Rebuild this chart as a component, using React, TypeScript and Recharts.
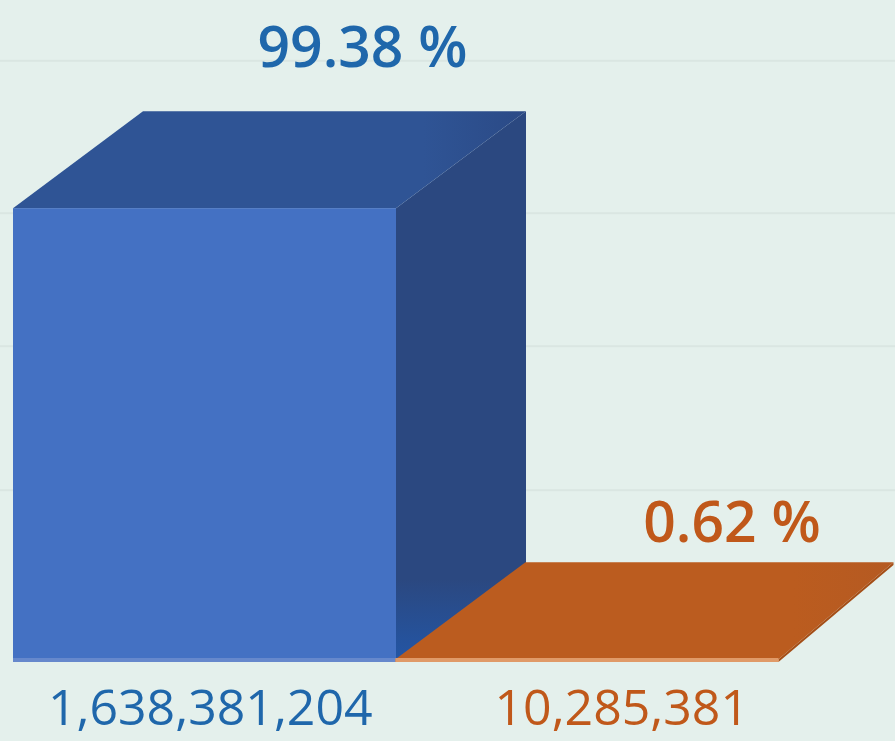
import React from "react";
import { BarChart, Bar, XAxis, YAxis, CartesianGrid, LabelList } from "recharts";

const categories = ["Blue", "Orange"];
const counts = [1638381204, 10285381];
const percents = [99.38, 0.62];
const gridTicks = [270000000, 790000000, 1270000000, 1820000000];

const data = categories.map((c, i) => ({
  name: c,
  count: counts[i],
  pct: percents[i],
  label: counts[i].toLocaleString("en-US"),
}));

const FONT = "'Open Sans', 'DejaVu Sans', sans-serif";
const BG = "#e4f0ec";
const DEPTH_Y = 97;
const MARGIN = { top: 108, right: 117, bottom: 49, left: 13 };
const depthX = [
  [130, 130],
  [130, 115],
];
const faceColors = [
  { front: "#4471c3", top: "#2f5495", topEnd: "#2b4a86", side: "#2b4880", textColor: "#1f67ab" },
  { front: "#d27a3e", top: "#bb5c1f", topEnd: "#b55a22", side: "#a44e17", textColor: "#c0581a" },
];
const labelShift = [
  [158, -141],
  [145, -117],
];
const tickShift = [6, 35];

const Box3D = (props: any) => {
  const { x, y, width, height, index } = props;
  const c = faceColors[index];
  const [dxL, dxR] = depthX[index];
  const dy = DEPTH_Y;
  const top = `${x},${y} ${x + dxL},${y - dy} ${x + width + dxR},${y - dy} ${x + width},${y}`;
  const side = `${x + width},${y} ${x + width + dxR},${y - dy} ${x + width + dxR},${y + height - dy} ${x + width},${y + height}`;
  return (
    <g>
      <defs>
        <linearGradient id={`top${index}`} x1="0" y1="0" x2="1" y2="0">
          <stop offset="0" stopColor={c.top} />
          <stop offset="0.8" stopColor={c.top} />
          <stop offset="1" stopColor={c.topEnd} />
        </linearGradient>
        <linearGradient id={`side${index}`} x1="0" y1="0" x2="0" y2="1">
          <stop offset="0" stopColor={c.side} />
          <stop offset="0.85" stopColor={c.side} />
          <stop offset="1" stopColor={index === 0 ? "#2356a6" : c.side} />
        </linearGradient>
      </defs>
      <polygon points={side} fill={`url(#side${index})`} />
      <polygon points={top} fill={`url(#top${index})`} />
      <rect x={x} y={y} width={width} height={Math.max(height, 0)} fill={c.front} />
      <rect x={x} y={y + height - 4} width={width} height={4} fill={index === 0 ? "#6688cc" : "#e09a68"} />
    </g>
  );
};

const PctLabel = (props: any) => {
  const { x, y, width, value, index } = props;
  const c = faceColors[index];
  const [sx, sy] = labelShift[index];
  return (
    <text
      x={x + width / 2 + sx}
      y={y + sy}
      textAnchor="middle"
      fontFamily={FONT}
      fontWeight={600}
      fontSize={57}
      fill={c.textColor}
    >
      {`${Number(value).toFixed(2)} %`}
    </text>
  );
};

const CountTick = (props: any) => {
  const { x, y, index, payload } = props;
  const c = faceColors[index];
  return (
    <text
      x={x + tickShift[index]}
      y={y + 55}
      textAnchor="middle"
      fontFamily={FONT}
      fontWeight={500}
      fontSize={50}
      fill={c.textColor}
    >
      {data[index] ? data[index].label : payload.value}
    </text>
  );
};

const plotTop = MARGIN.top;
const plotBottom = 741 - MARGIN.bottom - 30;

export default function App() {
  return (
    <div style={{ position: "absolute", left: 0, top: 0, width: 895, height: 741, background: BG, overflow: "hidden" }}>
      <BarChart width={895} height={741} data={data} margin={MARGIN} barCategoryGap={0}>
        <CartesianGrid
          vertical={false}
          horizontal={(p: any) => {
            if (Math.abs(p.y1 - plotTop) < 1 || Math.abs(p.y1 - plotBottom) < 1) return <g key={p.key} />;
            return (
              <line
                key={p.key}
                x1={0}
                x2={895}
                y1={p.y1 - DEPTH_Y}
                y2={p.y2 - DEPTH_Y}
                stroke="#dae6e2"
                strokeWidth={2}
              />
            );
          }}
        />
        <XAxis dataKey="name" axisLine={false} tickLine={false} interval={0} height={30} tick={<CountTick />} />
        <YAxis hide domain={[0, 2000000000]} ticks={gridTicks} />
        <Bar dataKey="count" shape={<Box3D />} isAnimationActive={false}>
          <LabelList dataKey="pct" content={<PctLabel />} />
        </Bar>
      </BarChart>
    </div>
  );
}
